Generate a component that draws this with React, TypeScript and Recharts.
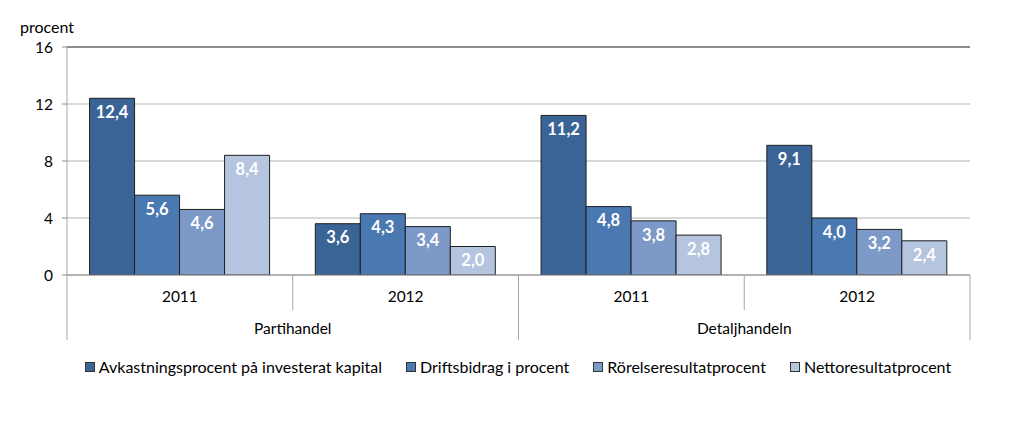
import React from "react";
import {
  BarChart,
  Bar,
  XAxis,
  YAxis,
  CartesianGrid,
  ReferenceLine,
  Legend,
  LabelList,
} from "recharts";

const years = ["2011", "2012", "2011", "2012"];
const groups = ["Partihandel", "Partihandel", "Detaljhandeln", "Detaljhandeln"];
const avkastning = [12.4, 3.6, 11.2, 9.1];
const driftsbidrag = [5.6, 4.3, 4.8, 4.0];
const rorelse = [4.6, 3.4, 3.8, 3.2];
const netto = [8.4, 2.0, 2.8, 2.4];
const yTicks = [0, 4, 8, 12, 16];

const seriesInfo = [
  { key: "avk", name: "Avkastningsprocent på investerat kapital", color: "#3b6496" },
  { key: "drift", name: "Driftsbidrag i procent", color: "#4a78b1" },
  { key: "ror", name: "Rörelseresultatprocent", color: "#7d99c7" },
  { key: "netto", name: "Nettoresultatprocent", color: "#b5c4df" },
];

const data = years.map((y, i) => ({
  year: y,
  group: groups[i],
  avk: avkastning[i],
  drift: driftsbidrag[i],
  ror: rorelse[i],
  netto: netto[i],
}));

const W = 1024;
const H = 428;
const marginR = 54;
const yAxisW = 67;
const plotW = W - marginR - yAxisW;
const catW = plotW / data.length;
const FONT = "Lato, 'Open Sans', sans-serif";
const fmt = (v: any) => Number(v).toFixed(1).replace(".", ",");

const XTick = (props: any) => {
  const { x, y, payload, index } = props;
  const row = data[index];
  const left = x - catW / 2;
  const out: any[] = [];
  out.push(
    <text key="t" x={x} y={y + 27} textAnchor="middle" fontSize={15.5} fill="#000" fontFamily={FONT}>
      {payload.value}
    </text>
  );
  const prev = index > 0 ? data[index - 1] : null;
  if (prev && prev.group === row.group) {
    out.push(<line key="s" x1={left} x2={left} y1={y} y2={y + 35} stroke="#a6a6a6" />);
  } else {
    out.push(<line key="l" x1={left} x2={left} y1={y} y2={y + 65} stroke="#a6a6a6" />);
    const n = data.filter((d) => d.group === row.group).length;
    out.push(
      <text key="g" x={left + (catW * n) / 2} y={y + 59} textAnchor="middle" fontSize={15.5} fill="#000" fontFamily={FONT}>
        {row.group}
      </text>
    );
  }
  if (index === data.length - 1) {
    out.push(<line key="r" x1={x + catW / 2} x2={x + catW / 2} y1={y} y2={y + 65} stroke="#a6a6a6" />);
  }
  return <g>{out}</g>;
};

const LegendContent = () => (
  <div style={{ display: "flex", justifyContent: "center", fontFamily: FONT, fontSize: 16, color: "#000", paddingLeft: 36 }}>
    {seriesInfo.map((s) => (
      <div key={s.key} style={{ display: "flex", alignItems: "center", marginRight: 24 }}>
        <span
          style={{
            display: "inline-block",
            width: 8,
            height: 8,
            background: s.color,
            border: "1px solid #333",
            marginRight: 4,
          }}
        />
        <span>{s.name}</span>
      </div>
    ))}
  </div>
);

export default function App() {
  return (
    <div style={{ position: "absolute", left: 0, top: 0, width: W, height: H, background: "#fff" }}>
      <BarChart
        width={W}
        height={H}
        data={data}
        margin={{ top: 47, right: marginR, left: 0, bottom: 68 }}
        barCategoryGap="10%"
        barGap={0}
      >
        <text x={20} y={33} fontSize={16} fontFamily={FONT} fill="#000">
          procent
        </text>
        <CartesianGrid vertical={false} stroke="#b3b3b3" />
        <XAxis
          dataKey="year"
          height={65}
          tickSize={0}
          tickMargin={0}
          tickLine={false}
          axisLine={{ stroke: "#8c8c8c" }}
          tick={<XTick />}
          interval={0}
        />
        <YAxis
          width={yAxisW}
          domain={[0, 16]}
          ticks={yTicks}
          tickSize={5}
          tickMargin={9}
          axisLine={{ stroke: "#a6a6a6" }}
          tickLine={{ stroke: "#8c8c8c" }}
          tick={{ fontSize: 15.5, fill: "#000", fontFamily: FONT }}
          allowDataOverflow
        />
        <YAxis
          yAxisId="r"
          orientation="right"
          width={0}
          domain={[0, 16]}
          tick={false}
          tickLine={false}
          axisLine={{ stroke: "#404040" }}
        />
        <ReferenceLine y={16} stroke="#404040" />
        {seriesInfo.map((s) => (
          <Bar
            key={s.key}
            dataKey={s.key}
            name={s.name}
            fill={s.color}
            stroke="#1f1f1f"
            strokeWidth={1}
            isAnimationActive={false}
          >
            <LabelList
              dataKey={s.key}
              position="insideTop"
              offset={8}
              formatter={fmt}
              fill="#fff"
              fontSize={16.5}
              fontWeight="bold"
              fontFamily={FONT}
            />
          </Bar>
        ))}
        <Legend
          verticalAlign="bottom"
          content={<LegendContent />}
          wrapperStyle={{ height: 20, bottom: 51, left: 0, width: W }}
        />
      </BarChart>
    </div>
  );
}
